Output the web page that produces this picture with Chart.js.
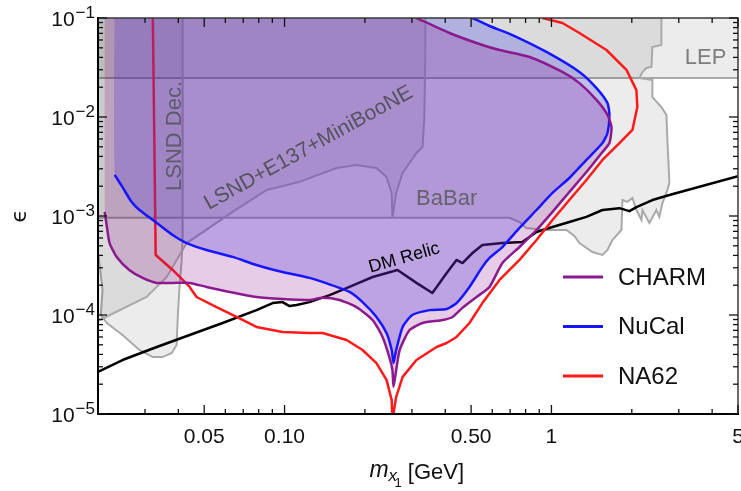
<!DOCTYPE html>
<html>
<head>
<meta charset="utf-8">
<script src="https://cdn.jsdelivr.net/npm/chart.js@4.4.1/dist/chart.umd.min.js"></script>
<style>
  html, body { margin: 0; padding: 0; background: #fff; }
  canvas { display: block; }
</style>
</head>
<body>
<canvas id="limitsChart" width="741" height="491"></canvas>
<script>
// axis ranges
const massRange = [0.02, 5];
const epsRange = [1e-5, 0.1];

// tick labels
const xTickValues = [0.05, 0.1, 0.5, 1, 5];
const xTickLabels = ['0.05', '0.10', '0.50', '1', '5'];
const yTickValues = [1e-5, 1e-4, 1e-3, 1e-2, 1e-1];
const yTickExponents = ['\u22125', '\u22124', '\u22123', '\u22122', '\u22121'];

// points beyond the plot edges, used to close shaded regions
const OFF_LEFT = 0.01, OFF_RIGHT = 10, OFF_TOP = 0.3;

// curves: [mass (GeV), epsilon]
const charmCurve = [
  [0.0212, 0.00110], [0.0216, 0.000774], [0.0221, 0.000533], [0.0235, 0.000386],
  [0.0262, 0.000285], [0.0294, 0.000237], [0.0332, 0.000211], [0.0381, 0.000211],
  [0.0441, 0.000211], [0.0510, 0.000192], [0.0622, 0.000171], [0.0785, 0.000152],
  [0.0983, 0.000145], [0.124, 0.000142], [0.1387, 0.000149], [0.1607, 0.000142],
  [0.186, 0.000120], [0.2138, 0.0000890], [0.2329, 0.0000600], [0.247, 0.0000376],
  [0.2536, 0.0000278], [0.256, 0.0000188], [0.262, 0.0000278], [0.270, 0.0000443],
  [0.294, 0.0000705], [0.329, 0.0000830], [0.391, 0.0000890], [0.426, 0.0000955],
  [0.464, 0.000118], [0.524, 0.000152], [0.586, 0.000192], [0.655, 0.000335],
  [0.759, 0.000486], [0.879, 0.000722], [1.009, 0.00110], [1.167, 0.00175],
  [1.352, 0.00278], [1.553, 0.00443], [1.649, 0.00546], [1.679, 0.00793],
  [1.622, 0.0105], [1.475, 0.0149], [1.273, 0.0220], [1.099, 0.0285],
  [0.828, 0.0404], [0.639, 0.0475], [0.551, 0.0533], [0.415, 0.0705], [0.312, 0.1]
];

const nucalCurve = [
  [0.0231, 0.00260], [0.0247, 0.00196], [0.0267, 0.00139], [0.0286, 0.00115],
  [0.0332, 0.00085], [0.0381, 0.000643], [0.0430, 0.000533], [0.0510, 0.000454],
  [0.0639, 0.000386], [0.0785, 0.000320], [0.0983, 0.000272], [0.124, 0.000237],
  [0.1387, 0.000216], [0.175, 0.000171], [0.196, 0.000135], [0.221, 0.0000955],
  [0.241, 0.0000657], [0.252, 0.0000443], [0.256, 0.0000327], [0.262, 0.0000443],
  [0.277, 0.0000757], [0.301, 0.0001], [0.349, 0.000112], [0.405, 0.000115],
  [0.441, 0.000132], [0.493, 0.000192], [0.551, 0.000306], [0.586, 0.000377],
  [0.655, 0.000486], [0.759, 0.000757], [0.879, 0.00115], [1.009, 0.00171],
  [1.167, 0.00242], [1.352, 0.00368], [1.553, 0.00546], [1.622, 0.00689],
  [1.649, 0.0105], [1.622, 0.0138], [1.475, 0.0196], [1.273, 0.0285],
  [0.958, 0.0454], [0.714, 0.0673], [0.586, 0.0830], [0.506, 0.1]
];

const na62Curve = [
  [0.0321, 0.1], [0.0329, 0.000404], [0.0381, 0.000285], [0.0441, 0.000192],
  [0.0468, 0.000152], [0.0556, 0.000120], [0.0661, 0.0000955], [0.0785, 0.0000757],
  [0.0983, 0.0000673], [0.124, 0.0000657], [0.1387, 0.0000657], [0.1707, 0.0000559],
  [0.196, 0.0000443], [0.221, 0.0000327], [0.241, 0.0000221], [0.252, 0.0000138],
  [0.2536, 0.0000087], [0.262, 0.0000149], [0.277, 0.0000237], [0.312, 0.0000351],
  [0.371, 0.0000475], [0.405, 0.0000521], [0.441, 0.0000600], [0.493, 0.0000830],
  [0.551, 0.000132], [0.639, 0.000226], [0.759, 0.000360], [0.879, 0.000573],
  [1.009, 0.00091], [1.167, 0.00145], [1.352, 0.00231], [1.553, 0.00368],
  [1.798, 0.00546], [2.011, 0.0074], [2.098, 0.0126], [2.081, 0.0187],
  [1.910, 0.0299], [1.607, 0.0475], [1.273, 0.0705], [1.099, 0.0890], [0.925, 0.1]
];

const relicCurve = [
  [0.02, 0.0000266], [0.0247, 0.0000351], [0.0332, 0.0000475], [0.0441, 0.0000628],
  [0.0586, 0.0000830], [0.0785, 0.000112], [0.0902, 0.000132], [0.0983, 0.000135],
  [0.1044, 0.000123], [0.1109, 0.000126], [0.124, 0.000135], [0.1475, 0.000159],
  [0.175, 0.000192], [0.2138, 0.000242], [0.265, 0.000285], [0.312, 0.000211],
  [0.358, 0.000167], [0.405, 0.000266], [0.441, 0.000360], [0.464, 0.000335],
  [0.506, 0.000423], [0.551, 0.000509], [0.655, 0.000533], [0.778, 0.000546],
  [0.879, 0.000690], [1.009, 0.000774], [1.167, 0.000869], [1.352, 0.00098],
  [1.553, 0.00115], [1.798, 0.00120], [1.960, 0.00112], [2.081, 0.00123],
  [2.389, 0.00145], [2.766, 0.00163], [5, 0.00252]
];

// grey excluded regions
const lepRegion = [
  [OFF_LEFT, 0.0248], [OFF_RIGHT, 0.0248], [OFF_RIGHT, OFF_TOP], [OFF_LEFT, OFF_TOP]
];

const babarRegion = [
  [OFF_LEFT, 0.00096], [0.697, 0.00096], [0.759, 0.00087], [0.805, 0.000757],
  [0.942, 0.000722], [1.138, 0.000722], [1.219, 0.000628], [1.273, 0.000533],
  [1.424, 0.000433], [1.553, 0.000404], [1.622, 0.000454], [1.692, 0.000573],
  [1.829, 0.000722], [1.845, 0.00145], [1.927, 0.00139], [2.011, 0.00152],
  [2.081, 0.00115], [2.174, 0.00091], [2.193, 0.00115], [2.329, 0.00085],
  [2.473, 0.00115], [2.536, 0.00098], [2.605, 0.00135], [2.719, 0.00183],
  [2.766, 0.00216], [2.719, 0.00586], [2.696, 0.0105], [2.582, 0.0126],
  [2.389, 0.0159], [2.389, 0.0237], [2.136, 0.0248], [2.193, 0.0285],
  [2.27, 0.0313], [2.37, 0.0320], [2.389, 0.0509], [2.582, 0.0533],
  [2.582, OFF_TOP], [OFF_LEFT, OFF_TOP]
];

const lsndE137Region = [
  [0.015, 0.0000614], [0.0203, 0.0000890], [0.0304, 0.000152], [0.0362, 0.000242],
  [0.0430, 0.000533], [0.0639, 0.00110], [0.0857, 0.00183], [0.1138, 0.00221],
  [0.1566, 0.00305], [0.186, 0.00327], [0.221, 0.00305], [0.241, 0.00248],
  [0.252, 0.00171], [0.2536, 0.00096], [0.262, 0.00171], [0.277, 0.00272],
  [0.312, 0.00433], [0.329, 0.00498], [0.334, 0.0100], [0.337, 0.0475],
  [0.337, OFF_TOP], [0.015, OFF_TOP]
];

const lsndDecayRegion = [
  [0.0415, OFF_TOP], [0.0415, 0.000573], [0.0411, 0.000335], [0.0404, 0.000192],
  [0.0398, 0.0000955], [0.0394, 0.0000498], [0.0378, 0.0000413], [0.0349, 0.0000376],
  [0.0321, 0.0000376], [0.0286, 0.0000443], [0.0247, 0.0000628], [0.0216, 0.0000830],
  [0.0205, 0.0001], [0.0208, 0.000179], [0.0201, 0.0004], [0.015, 0.001],
  [0.015, OFF_TOP]
];

// region labels: [text, mass, epsilon]
const regionLabels = [
  ['LEP', 3.78, 0.0395],
  ['LSND Dec.', 0.0387, 0.00643],
  ['LSND+E137+MiniBooNE', 0.123, 0.00486],
  ['BaBar', 0.405, 0.00149],
  ['DM Relic', 0.281, 0.000377]
];

const toPoints = (arr) => arr.map(([x, y]) => ({ x, y }));
// close a curve that leaves through the top of the plot
const closeAtTop = (curve) => [
  [curve[0][0], OFF_TOP], ...curve, [curve[curve.length - 1][0], OFF_TOP]
];

const GREY_FILL = 'rgba(0, 0, 0, 0.075)';
const GREY_LINE = '#a9a9a9';
const SMOOTH = 0.2;

const lineSet = (label, data, color, tension) => ({
  label, data: toPoints(data), showLine: true, fill: false,
  borderColor: color, borderWidth: 2.5, pointRadius: 0, tension: tension || 0,
  borderJoinStyle: 'round'
});
const areaSet = (label, data, fillColor, lineColor, lineWidth, tension) => ({
  label, data: toPoints(data), showLine: true, fill: 'shape',
  backgroundColor: fillColor, borderColor: lineColor || 'rgba(0,0,0,0)',
  borderWidth: lineWidth || 0, pointRadius: 0, tension: tension || 0
});

// first dataset ends up on top
const datasets = [
  lineSet('CHARM', charmCurve, '#8b1a8f', SMOOTH),
  lineSet('NuCal', nucalCurve, '#1616ff', SMOOTH),
  areaSet('CHARM region', closeAtTop(charmCurve), 'rgba(128, 0, 128, 0.2)', null, 0, SMOOTH),
  areaSet('NuCal region', closeAtTop(nucalCurve), 'rgba(70, 70, 235, 0.28)', null, 0, SMOOTH),
  lineSet('NA62', na62Curve, '#ff1a1a'),
  lineSet('DM Relic', relicCurve, '#000000'),
  areaSet('LSND+E137+MiniBooNE', lsndE137Region, GREY_FILL, GREY_LINE, 2),
  areaSet('LSND Dec.', lsndDecayRegion, GREY_FILL, GREY_LINE, 2),
  areaSet('BaBar', babarRegion, GREY_FILL, GREY_LINE, 2),
  areaSet('LEP', lepRegion, GREY_FILL, GREY_LINE, 2)
];

const legendItems = ['CHARM', 'NuCal', 'NA62'];

const FONT = '"Liberation Sans", Arial, Helvetica, sans-serif';

const axisDecor = {
  id: 'axisDecor',
  afterDraw(chart) {
    const { ctx, chartArea: a, scales: { x, y } } = chart;
    ctx.save();

    // region labels
    const labelStyle = {
      'LEP': { font: '22px', color: '#7d7d7d', rot: 0 },
      'LSND Dec.': { font: '22px', color: '#5e5a68', rot: -90 },
      'LSND+E137+MiniBooNE': { font: '21px', color: '#56525e', rot: -29 },
      'BaBar': { font: '22px', color: '#66626e', rot: 0 },
      'DM Relic': { font: '18px', color: '#000', rot: -16 }
    };
    regionLabels.forEach(([text, m, e]) => {
      const s = labelStyle[text];
      ctx.save();
      ctx.translate(x.getPixelForValue(m), y.getPixelForValue(e));
      ctx.rotate(s.rot * Math.PI / 180);
      ctx.font = s.font + ' ' + FONT;
      ctx.fillStyle = s.color;
      ctx.textAlign = 'center';
      ctx.textBaseline = 'middle';
      ctx.fillText(text, 0, 0);
      ctx.restore();
    });

    // legend
    ctx.font = '24px ' + FONT;
    ctx.textAlign = 'left';
    ctx.textBaseline = 'middle';
    legendItems.forEach((name, i) => {
      const ds = chart.data.datasets.find(d => d.label === name);
      const ly = a.top + 259 + i * 49.5;
      ctx.strokeStyle = ds.borderColor;
      ctx.lineWidth = 3;
      ctx.beginPath();
      ctx.moveTo(a.right - 175, ly);
      ctx.lineTo(a.right - 135, ly);
      ctx.stroke();
      ctx.fillStyle = '#111';
      ctx.fillText(name, a.right - 120, ly + 1);
    });

    // frame
    ctx.lineCap = 'butt';
    ctx.strokeStyle = '#3a3a3a';
    ctx.lineWidth = 1.5;
    ctx.beginPath();
    ctx.moveTo(a.left, a.top);
    ctx.lineTo(a.right, a.top);
    ctx.lineTo(a.right, a.bottom);
    ctx.stroke();
    ctx.strokeStyle = '#000';
    ctx.lineWidth = 2;
    ctx.beginPath();
    ctx.moveTo(a.left, a.top - 1);
    ctx.lineTo(a.left, a.bottom);
    ctx.lineTo(a.right + 1, a.bottom);
    ctx.stroke();

    // tick marks (inside, mirrored on top and right)
    ctx.lineWidth = 1.3;
    ctx.strokeStyle = '#111';
    const tick = (px, py, dx, dy) => {
      ctx.beginPath();
      ctx.moveTo(px, py);
      ctx.lineTo(px + dx, py + dy);
      ctx.stroke();
    };
    for (let d = -2; d <= 0; d++) {
      for (let k = 1; k <= 9; k++) {
        const v = k * Math.pow(10, d);
        if (v < massRange[0] * 0.999 || v > massRange[1] * 1.001) continue;
        const major = xTickValues.some(t => Math.abs(t - v) < 1e-9);
        const len = major ? 9 : 5;
        const px = x.getPixelForValue(v);
        tick(px, a.bottom, 0, -len);
        tick(px, a.top, 0, len);
      }
    }
    for (let d = -5; d <= -1; d++) {
      for (let k = 1; k <= 9; k++) {
        const v = k * Math.pow(10, d);
        if (v > epsRange[1] * 1.001) continue;
        const len = k === 1 ? 9 : 5;
        const py = y.getPixelForValue(v);
        tick(a.left, py, len, 0);
        tick(a.right, py, -len, 0);
      }
    }

    // x tick labels
    ctx.fillStyle = '#111';
    ctx.font = '21px ' + FONT;
    ctx.textAlign = 'center';
    ctx.textBaseline = 'alphabetic';
    xTickValues.forEach((v, i) => {
      ctx.fillText(xTickLabels[i], x.getPixelForValue(v), a.bottom + 29);
    });

    // y tick labels 10^n
    yTickValues.forEach((v, i) => {
      const py = y.getPixelForValue(v);
      ctx.font = '17px ' + FONT;
      const ew = ctx.measureText(yTickExponents[i]).width + 1;
      ctx.font = '21px ' + FONT;
      const bw = ctx.measureText('10').width;
      const right = a.left - 3;
      ctx.textAlign = 'left';
      ctx.fillText('10', right - ew - bw, py + 8);
      ctx.font = '17px ' + FONT;
      ctx.fillText(yTickExponents[i], right - ew + 1, py + 0);
    });

    // x axis title: m_{x_1} [GeV]
    const parts = [
      { t: 'm', f: 'italic 23px ', dy: 0 },
      { t: 'x', f: 'italic 17px ', dy: 4 },
      { t: '1', f: '13px ', dy: 10 },
      { t: ' [GeV]', f: '22px ', dy: 2 }
    ];
    let total = 0;
    parts.forEach(p => { ctx.font = p.f + FONT; p.w = ctx.measureText(p.t).width; total += p.w; });
    let cx = (a.left + a.right) / 2 - total / 2;
    const base = a.bottom + 63;
    parts.forEach((p, i) => {
      ctx.font = p.f + FONT;
      const shift = i === 2 ? -p.w * 0.35 : 0;
      ctx.fillText(p.t, cx + shift, base + p.dy);
      cx += i === 2 ? p.w * 0.65 : p.w;
    });

    // y axis title
    ctx.save();
    ctx.translate(20, (a.top + a.bottom) / 2);
    ctx.rotate(-Math.PI / 2);
    ctx.font = '22px "DejaVu Sans", ' + FONT;
    ctx.textAlign = 'center';
    ctx.textBaseline = 'middle';
    ctx.fillText('\u03F5', 0, 0);
    ctx.restore();

    ctx.restore();
  }
};

new Chart(document.getElementById('limitsChart'), {
  type: 'scatter',
  data: { datasets },
  options: {
    responsive: false,
    animation: false,
    events: [],
    layout: { padding: { left: 98, top: 18, right: 3, bottom: 77 } },
    plugins: {
      legend: { display: false },
      tooltip: { enabled: false }
    },
    scales: {
      x: { type: 'logarithmic', min: massRange[0], max: massRange[1], display: false },
      y: { type: 'logarithmic', min: epsRange[0], max: epsRange[1], display: false }
    }
  },
  plugins: [axisDecor]
});
</script>
</body>
</html>
